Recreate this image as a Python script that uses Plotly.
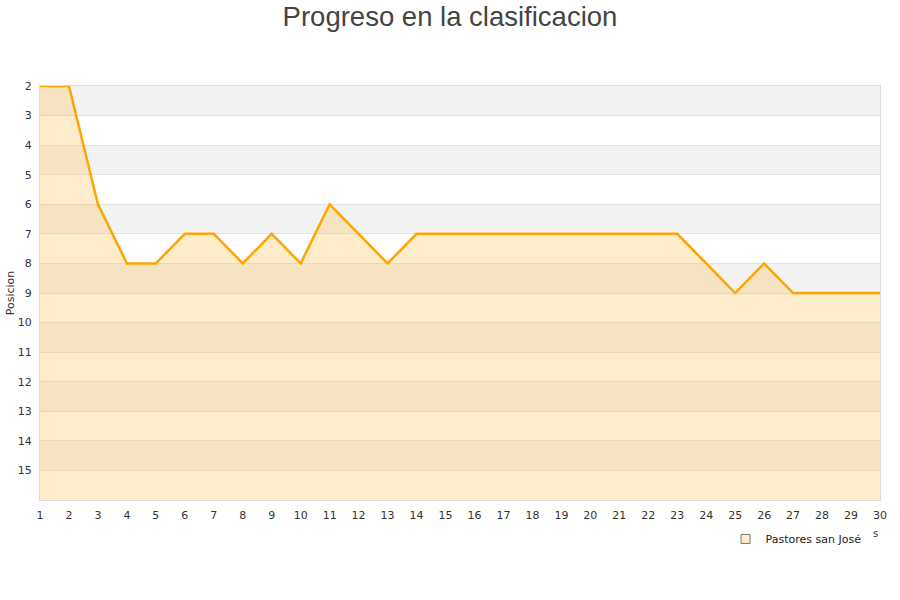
import plotly.graph_objects as go

jornadas = list(range(1, 31))
posiciones = [2, 2, 6, 8, 8, 7, 7, 8, 7, 8, 6, 7, 8, 7, 7, 7, 7, 7, 7, 7, 7, 7, 7, 8, 9, 8, 9, 9, 9, 9]
equipo = "Pastores san José"
y_ticks = list(range(2, 16))
fondo = 16

fig = go.Figure()
fig.add_trace(go.Scatter(x=jornadas, y=[fondo] * len(jornadas), mode="lines",
                         line=dict(width=0), showlegend=False, hoverinfo="skip"))
fig.add_trace(go.Scatter(x=jornadas, y=posiciones, mode="lines", fill="tonexty",
                         fillcolor="rgba(255,179,43,0.25)",
                         line=dict(color="#ffa500", width=2.5), showlegend=False))
fig.add_trace(go.Scatter(x=[None], y=[None], mode="markers", name=equipo,
                         marker=dict(symbol="square", size=9, color="#feecca",
                                     line=dict(color="#777", width=1))))

shapes = []
for v in range(2, 15, 2):
    shapes.append(dict(type="rect", xref="paper", yref="y", x0=0, x1=1, y0=v, y1=v + 1,
                       fillcolor="#f3f3f3", line=dict(width=0), layer="between"))

fig.update_layout(
    width=900, height=600,
    margin=dict(l=40, r=20, t=86, b=100, autoexpand=False),
    paper_bgcolor="white", plot_bgcolor="white",
    title=dict(text="Progreso en la clasificacion", x=0.5, xanchor="center", y=0.973, yanchor="middle",
               font=dict(family="Liberation Sans, Arial", size=27.5, color="#444"), automargin=False),
    font=dict(family="DejaVu Sans", size=11, color="#333"),
    shapes=shapes,
    annotations=[dict(text="s", xref="paper", yref="paper", x=0.9952, y=-0.08, xanchor="center",
                      yanchor="middle", showarrow=False, font=dict(size=10, color="#333"))],
    xaxis=dict(range=[1, 30], tickvals=jornadas, showgrid=False, zeroline=False, automargin=False,
               showline=True, mirror=True, linecolor="#ddd", ticks="", tickfont=dict(size=11),
               ticklabelstandoff=5),
    yaxis=dict(range=[fondo, 2], tickvals=y_ticks, showgrid=True, gridcolor="#e3e3e3",
               zeroline=False, showline=True, mirror=True, linecolor="#ddd", ticks="", automargin=False,
               title=dict(text="Posicion", font=dict(size=11), standoff=0), tickfont=dict(size=11),
               ticklabelstandoff=5),
    legend=dict(x=0.984, xanchor="right", y=-0.059, yanchor="top", orientation="h",
                font=dict(size=11, color="#222"), bgcolor="rgba(0,0,0,0)"),
)
fig.write_html("out.html", config={"displayModeBar": False},
               post_script="document.body.style.margin='0px';")
